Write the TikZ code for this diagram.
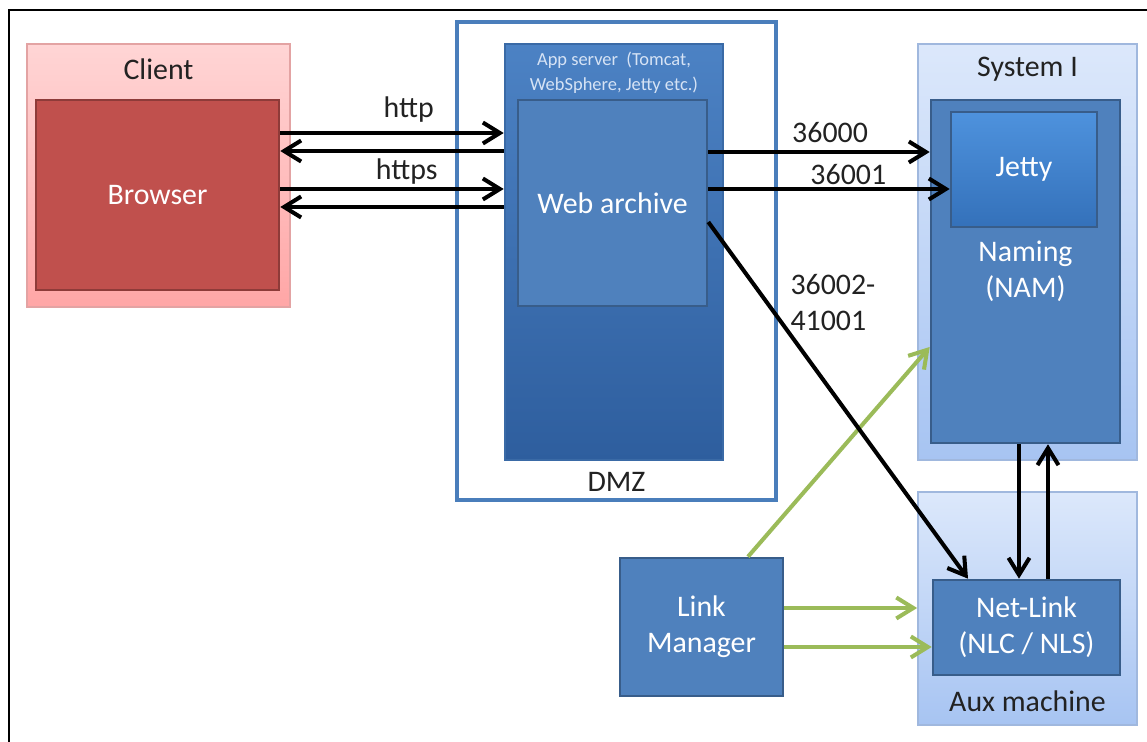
\documentclass[tikz,border=0pt]{standalone}
\usepackage{fontspec}
\setmainfont{Carlito}
\usetikzlibrary{arrows.meta,positioning}

\definecolor{clienttop}{HTML}{FFD5D5}
\definecolor{clientbot}{HTML}{FFA6A6}
\definecolor{clientline}{HTML}{E3A3A3}
\definecolor{browserred}{HTML}{C0504D}
\definecolor{browserline}{HTML}{8E3B39}
\definecolor{dmzblue}{HTML}{4A7EBB}
\definecolor{apptop}{HTML}{4C82C4}
\definecolor{appbot}{HTML}{2E5E9E}
\definecolor{appline}{HTML}{3A6AA6}
\definecolor{boxblue}{HTML}{4F81BD}
\definecolor{boxline}{HTML}{385D8A}
\definecolor{systop}{HTML}{DCE8FB}
\definecolor{sysbot}{HTML}{A7C4F2}
\definecolor{sysline}{HTML}{A0B8DE}
\definecolor{jettop}{HTML}{4E92DD}
\definecolor{jetbot}{HTML}{3471BA}
\definecolor{lmgreen}{HTML}{9BBB59}
\definecolor{labeltext}{HTML}{222222}
\definecolor{apptext}{HTML}{D6E3F5}

\tikzset{
	box/.style={draw=boxline, fill=boxblue, line width=1.5pt, text=white, align=center, inner sep=0pt},
	machine/.style={draw=sysline, top color=systop, bottom color=sysbot, line width=1pt},
	title/.style={text=labeltext, inner sep=1pt},
	port/.style={text=labeltext, inner sep=1pt},
	arr/.style={line width=2.3pt, -{Straight Barb[length=3.4mm,width=4.2mm]}},
	garr/.style={arr, draw=lmgreen},
}

\begin{document}
\begin{tikzpicture}[x=0.02cm, y=-0.02cm, font=\fontsize{17}{20.5}\selectfont]
	\useasboundingbox (0,0) rectangle (1147,742);
	\draw[line width=1.6pt] (9,742) -- (9,10) -- (1147,10);

	\node[draw=clientline, top color=clienttop, bottom color=clientbot, line width=1pt, minimum width=5.26cm, minimum height=5.26cm](CL) at (158.5,175.5){};
	\node[box, fill=browserred, draw=browserline, text=white, minimum width=4.86cm, minimum height=3.8cm](BR) at (157.5,195){Browser};
	\node[title](CLT) at ([yshift=-0.52cm]CL.north){Client};

	\node[draw=dmzblue, fill=white, line width=1.8pt, minimum width=6.38cm, minimum height=9.56cm](DMZ) at (616.5,261){};
	\node[box, top color=apptop, bottom color=appbot, draw=appline, minimum width=4.36cm, minimum height=8.32cm](APP) at (614,252){};
	\node[box, minimum width=3.78cm, minimum height=4.12cm](WAR) at (612.5,203){Web archive};
	\node[text=apptext, align=center, inner sep=1pt, font=\fontsize{10.5}{14.2}\selectfont](APPT) at ([yshift=-0.61cm]APP.north){App server~~(Tomcat,\\WebSphere, Jetty etc.)};
	\node[title](DMZT) at ([yshift=0.4cm]DMZ.south){DMZ};

	\node[machine, minimum width=4.38cm, minimum height=8.32cm](SYS) at (1027.5,252){};
	\node[box, minimum width=3.78cm, minimum height=6.86cm](NAM) at (1025.5,271.5){Naming\\(NAM)};
	\node[box, top color=jettop, bottom color=jetbot, minimum width=2.92cm, minimum height=2.3cm](JET) at (1024,169.5){Jetty};
	\node[title](SYST) at ([yshift=-0.52cm]SYS.north){System I};

	\node[machine, minimum width=4.38cm, minimum height=4.66cm](AUX) at (1027.5,608.5){};
	\node[box, minimum width=3.74cm, minimum height=1.9cm](NL) at (1026.5,627.5){Net-Link\\(NLC / NLS)};
	\node[title](AUXT) at ([yshift=0.5cm]AUX.south){Aux machine};

	\node[box, minimum width=3.26cm, minimum height=2.76cm](LM) at (701.5,627){Link\\Manager};

	\draw[arr] ([yshift=1.24cm]BR.east) -- ([yshift=1.24cm]BR.east -| APP.west) node[port, pos=0.575, above=4pt](HTTP){http};
	\draw[arr] ([yshift=0.88cm]BR.east -| APP.west) -- ([yshift=0.88cm]BR.east);
	\draw[arr] ([yshift=0.12cm]BR.east) -- ([yshift=0.12cm]BR.east -| APP.west) node[port, pos=0.566, above=0.5pt](HTTPS){https};
	\draw[arr] ([yshift=-0.24cm]BR.east -| APP.west) -- ([yshift=-0.24cm]BR.east);

	\draw[arr] ([yshift=1.02cm]WAR.east) -- ([yshift=1.02cm]WAR.east -| NAM.west) node[port, pos=0.55, above=3pt](P1){36000};
	\draw[arr] ([yshift=0.28cm]WAR.east) -- ([yshift=0.28cm]WAR.east -| JET.west) node[port, pos=0.58, above=0.5pt](P2){36001};

	\draw[garr] ([xshift=0.93cm]LM.north) -- ([yshift=-1.51cm]NAM.west);
	\draw[garr] ([yshift=0.38cm]LM.east) -- ([yshift=0.38cm]LM.east -| AUX.west);
	\draw[garr] ([yshift=-0.4cm]LM.east) -- ([yshift=-0.4cm]LM.east -| NL.west);

	\draw[arr] ([yshift=-0.38cm]WAR.east) -- ([xshift=-1.17cm]NL.north) node[port, pos=0.225, right=0.4cm, align=left](P3){36002-\\41001};

	\draw[arr] ([xshift=-0.13cm]NAM.south) -- ([xshift=-0.13cm]NAM.south |- NL.north);
	\draw[arr] ([xshift=0.45cm]NAM.south |- NL.north) -- ([xshift=0.45cm]NAM.south);
\end{tikzpicture}
\end{document}
